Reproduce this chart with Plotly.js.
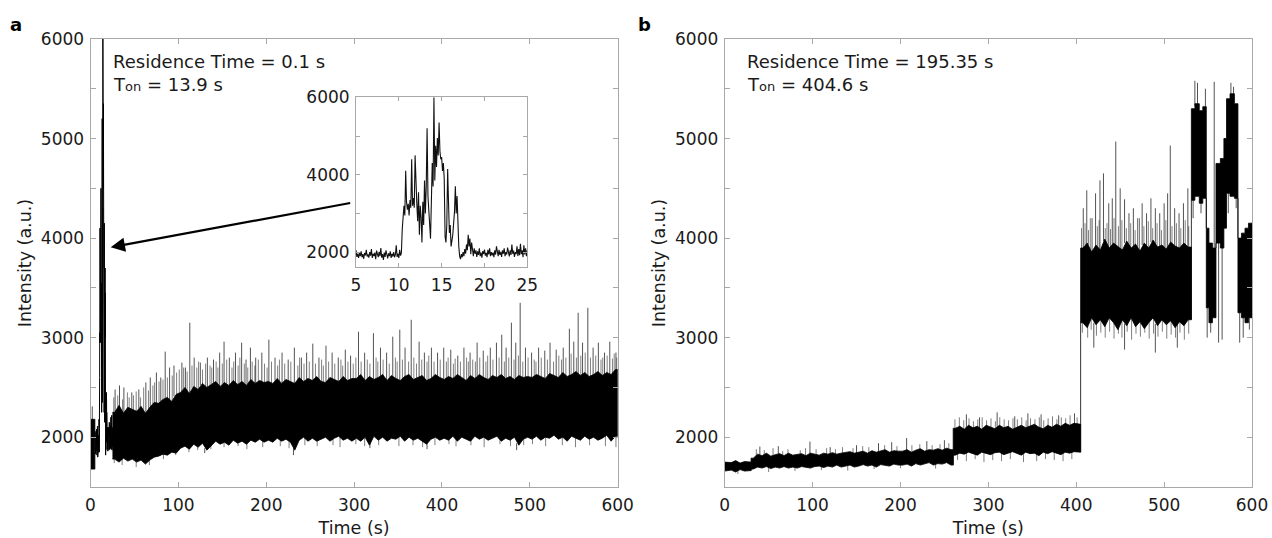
<!DOCTYPE html>
<html>
<head>
<meta charset="utf-8">
<script src="https://cdn.plot.ly/plotly-3.0.1.min.js"></script>
<style>html,body{margin:0;padding:0;background:#fff;}#chart{width:1272px;height:538px;}</style>
</head>
<body>
<div id="chart"></div>
<script>
// ---------------- DATA ----------------
// Panel a: zoomed binding event (inset), 0.1 s sampling from 5 s to 25 s
const insetStart = 5.0;
const insetStep = 0.1;
const insetValues = [
  2050,1880,1960,1850,1990,1900,2020,1870,1950,1830,
  1980,1920,2060,1890,1940,1860,2000,1910,2080,1850,
  1960,1900,1990,1820,2040,1930,1870,2010,1900,2110,
  1860,1950,1800,1990,1880,2050,1920,1840,1970,1900,
  2020,1850,1960,1890,2000,1870,1940,2180,1880,1960,
  1850,2060,1910,1980,2600,3050,3200,2950,4100,3300,
  3100,3250,2950,3350,3150,4400,3200,3400,3150,4500,
  3600,3250,2800,3550,2450,3200,2900,2250,3300,2700,
  3850,3000,3700,5200,3450,3100,2450,2350,3300,4300,
  3700,6000,3850,4750,4200,4950,4500,5350,4600,4400,
  4450,4100,4300,3900,2400,2250,2700,4150,3300,2500,
  2700,2150,2300,2450,2750,3050,3700,3000,3450,2500,
  2150,1900,1820,1950,1870,2000,1900,2080,1960,2200,
  2050,2450,2150,2350,1950,2250,2000,1900,2100,1960,
  2050,1880,2020,1930,2100,1900,1990,1860,2030,1950,
  2070,1910,1980,1870,2060,1940,2100,1900,2000,1920,
  1990,1870,2050,1940,2150,1980,1900,2060,1930,2010,
  1880,2050,1960,2100,1900,2000,1940,2120,1980,1890,
  2050,1930,2200,1960,2040,1880,2000,1950,2150,1900,
  2080,1920,2220,1950,2050,1870,2180,1940,2100,1900,2050
];

// Panel a: 5 s bins (bin 0 s, then 25 s ... 595 s), lower / upper edge of the dense noise band
const binWidth = 5;
const aBinStarts = [0, 25,30,35,40,45,50,55,60,65,70,75,80,85,90,95,
  100,105,110,115,120,125,130,135,140,145,150,155,160,165,170,175,180,185,190,195,
  200,205,210,215,220,225,230,235,240,245,250,255,260,265,270,275,280,285,290,295,
  300,305,310,315,320,325,330,335,340,345,350,355,360,365,370,375,380,385,390,395,
  400,405,410,415,420,425,430,435,440,445,450,455,460,465,470,475,480,485,490,495,
  500,505,510,515,520,525,530,535,540,545,550,555,560,565,570,575,580,585,590,595];
const aLow = [1680,
  1780,1750,1790,1760,1780,1750,1770,1730,1770,1800,1810,1830,1820,1850,1840,
  1890,1910,1880,1930,1900,1940,1870,1920,1960,1930,1950,1920,1970,1940,1960,1930,1970,1950,1980,1950,
  1970,1950,1990,1960,1980,1950,1870,1970,2000,1960,1990,1960,1980,2000,1960,1990,2010,1970,1990,1960,
  1990,1960,2000,1920,2010,1970,2000,1960,1990,1980,2010,1960,2000,1970,1990,1960,1930,1980,2000,1970,
  1990,1970,2010,1960,2000,1980,1960,2010,1980,2000,1970,1990,2010,1960,1990,1970,2000,1920,1980,2000,
  1980,2010,1970,2000,1990,2020,1980,2000,1960,2010,1990,1970,2010,1980,2000,1970,1990,2020,1960,2010];
const aHigh = [2180,
  2250,2320,2240,2300,2280,2260,2310,2240,2300,2350,2340,2380,2400,2360,2430,
  2450,2500,2440,2510,2480,2540,2500,2530,2560,2510,2550,2520,2570,2530,2560,2520,2580,2540,2570,2550,
  2560,2540,2590,2540,2580,2560,2540,2600,2560,2590,2570,2610,2560,2550,2600,2580,2560,2610,2570,2590,
  2590,2630,2570,2610,2580,2600,2630,2570,2620,2590,2570,2610,2630,2580,2600,2620,2570,2590,2630,2600,
  2580,2610,2590,2630,2600,2570,2620,2590,2630,2600,2580,2620,2600,2630,2590,2610,2580,2620,2600,2610,
  2600,2630,2610,2590,2640,2620,2600,2650,2610,2630,2660,2620,2650,2610,2630,2660,2620,2650,2630,2680];
// Panel a: tall isolated spikes / dips (time s, intensity)
const aSpikeT = [2,28,33,38,47,55,63,68,75,80,85,90,95,104,108,113,118,125,133,140,147,152,158,165,172,177,182,188,195,
  203,210,218,225,232,240,246,253,260,268,275,282,290,296,305,312,322,330,337,344,352,358,365,374,380,388,395,
  402,410,418,425,432,440,447,455,462,468,473,479,484,489,495,502,510,517,523,530,538,545,550,555,560,566,572,578,585,591,598,
  130,231,318,383,485];
const aSpikeV = [2310,2480,2520,2500,2450,2480,2550,2600,2650,2600,2860,2700,2720,2750,2700,3150,2800,2750,2800,2780,2850,2960,2800,2850,2950,2780,2900,2800,2850,
  2980,2800,2850,2780,2900,2800,2850,2940,2800,2920,2850,2800,2880,2820,3060,2850,3045,2900,2850,3010,3080,2900,3180,2960,2850,2900,2850,
  2900,2880,2820,2900,2850,2950,2870,2900,2950,3030,2900,3150,2950,3350,2900,2850,2900,2870,2950,2880,2900,3090,2960,3250,2950,3300,2900,2950,2850,2960,2850,
  1840,1820,1890,1880,1870];
// Panel a: short excursions forming the grey fringe of the band (time s, intensity)
const aHazeT = [26.5,31,36.5,42,44,49,52,57,60.5,66,71,73,78,82.5,87.5,93,98,101,106,110,115.5,121,123,127.5,131,136,138,143,145,150,
  155,161,163,168,170,175,179,184,187,191,198,201,206,213,215,221,228,236,238,243,249,256,263,265,271,278,285,287,293,299,
  302,308,315,318,325,327,333,340,347,349,355,362,368,371,377,383,385,391,398,405,407,413,415,421,428,430,435,438,443,450,
  452,458,465,471,476,482,487,492,498,505,507,513,520,527,533,536,541,547,553,558,563,569,575,581,583,588,594,596,599,
  27,36,52,67,83,97,112,122,137,152,168,178,196,216,226,244,258,276,284,302,312,328,351,367,378,392,408,416,433,448,
  466,478,493,503,518,537,552,568,586,598];
const aHazeV = [2400,2420,2380,2450,2400,2420,2460,2400,2500,2470,2520,2550,2560,2580,2600,2620,2650,2680,2700,2660,2720,2700,2760,2680,2740,2720,2700,2760,2700,2740,
  2780,2700,2760,2720,2800,2740,2700,2760,2720,2780,2740,2700,2760,2720,2780,2740,2760,2720,2800,2740,2760,2740,2780,2720,2760,2740,2780,2720,2760,2740,
  2800,2760,2780,2740,2800,2760,2780,2740,2800,2760,2780,2760,2800,2740,2780,2760,2820,2760,2780,2760,2800,2740,2790,2760,2800,2760,2780,2760,2800,2760,
  2820,2780,2800,2760,2800,2780,2820,2760,2800,2780,2760,2800,2780,2760,2820,2780,2800,2840,2800,2820,2850,2800,2820,2780,2800,2820,2790,2840,2800,
  1740,1720,1700,1720,1780,1820,1850,1870,1880,1900,1910,1880,1900,1910,1890,1920,1910,1920,1900,1930,1910,1920,1910,1920,1900,1920,1930,1910,1920,1900,
  1930,1910,1920,1930,1910,1920,1900,1920,1910,1900];

// Panel b: 5 s bins 0 ... 525 s, lower / upper edge of the dense band
const bLow = [1660,1670,1650,1675,1660,1665,1680,
  1700,1690,1705,1685,1700,1690,1705,1690,1700,1690,1705,1695,1690,
  1705,1710,1695,1710,1700,1720,1700,1710,1720,1700,1710,1725,1710,1720,1700,1725,1720,1710,1730,1720,
  1720,1730,1710,1735,1720,1730,1745,1720,1735,1730,1745,1720,
  1820,1840,1830,1850,1835,1820,1850,1835,1825,1845,1850,1825,1840,1855,1835,1820,1850,1835,1840,1815,1850,1835,1855,1840,1825,1850,1840,1855,1850,
  3150,3100,3200,3130,3180,3110,3200,3150,3080,3180,3120,3200,3110,3160,3090,3150,3200,3120,3180,3130,3170,3100,3160,3120,3180];
const bHigh = [1750,1745,1765,1740,1755,1750,1790,
  1830,1815,1840,1810,1825,1835,1815,1840,1820,1830,1835,1815,1840,
  1830,1820,1840,1830,1845,1830,1840,1850,1855,1840,1850,1860,1840,1865,1850,1860,1875,1850,1865,1860,
  1860,1875,1850,1870,1885,1860,1875,1870,1885,1870,1890,1875,
  2090,2110,2080,2120,2095,2110,2080,2120,2100,2085,2120,2095,2110,2080,2100,2120,2095,2110,2130,2100,2085,2120,2100,2130,2110,2140,2120,2140,2130,
  3900,3950,3860,3930,3880,3990,3900,3950,3910,3880,3970,3900,3940,3870,3950,3900,3980,3910,3930,3890,3960,3920,3900,3950,3910];
// Panel b: times (s) where the intensity level switches within the binned part
const bSwitches = [0, 30, 260, 405, 531];
// Panel b: switching segment after 531 s (segment start s, lower, upper edge)
const bTailStarts = [531,535,540,544,548,551,555,559,564,568,571,575,580,584,588,592,596];
const bTailLow  = [4380,4420,4350,4400,3300,3150,3200,3950,3900,4100,4450,4420,4400,3250,3200,3150,3200];
const bTailHigh = [5300,5350,5280,5320,4100,3950,3900,4750,4800,5000,5400,5450,5350,4000,4050,4100,4150];
const bEnd = 600;
// Panel b: tall isolated spikes / dips (time s, intensity)
const bSpikeT = [40,61,97,120,150,175,190,207,230,250,275,290,310,330,345,360,380,398,
  408,412,418,422,427,431,437,441,445,450,455,460,465,470,475,480,485,490,495,500,504,507,512,517,522,527,
  420,455,490,515,
  535,538,547,557,576,579,549,553,562,566,586,590,597,533,542,573,582];
const bSpikeV = [1906,1910,1956,1900,1920,1940,1950,1991,1960,1970,2230,2200,2250,2210,2240,2230,2220,2240,
  4300,4480,4200,4450,4580,4650,4350,4400,4970,4500,4390,4250,4300,4200,4350,4250,4400,4300,4250,4350,4450,4930,4300,4250,4350,4500,
  2900,2880,2850,2900,
  5580,5560,5500,5570,5560,5520,3000,3050,2950,2980,2950,3000,3080,4200,4250,4250,4300];
// Panel b: short excursions forming the grey fringe (time s, intensity)
const bHazeT = [36,45,55,66,72,86,92,104,116,126,134,146,157,164,182,196,213,222,236,245,255,
  15,50,80,110,140,170,200,240,
  262,267,272,278,283,288,293,298,303,308,313,318,323,328,333,338,343,348,353,358,363,368,373,378,383,388,393,401,
  265,275,285,295,305,315,325,340,355,365,375,385,395,
  406,410,414,416,424,426,433,435,439,443,448,452,457,462,467,472,477,482,487,492,497,502,509,514,519,524,528,
  407,413,417,423,428,433,438,443,448,452,458,463,468,473,478,483,488,493,498,503,508,513,518,523,528];
const bHazeV = [1880,1870,1890,1860,1880,1870,1890,1880,1890,1880,1900,1890,1910,1900,1920,1910,1920,1930,1920,1930,1940,
  1630,1650,1660,1670,1665,1680,1690,1685,
  2180,2200,2170,2190,2160,2180,2200,2170,2190,2160,2200,2180,2170,2190,2180,2200,2170,2190,2180,2200,2170,2190,2210,2180,2200,2190,2220,2200,
  1770,1760,1780,1750,1770,1760,1780,1750,1760,1780,1770,1760,1780,
  4100,4150,4080,4200,4120,4180,4100,4150,4090,4200,4120,4180,4100,4150,4080,4200,4120,4170,4100,4150,4080,4180,4120,4150,4100,4180,4120,
  3050,3000,3080,3020,3050,3000,3060,2990,3040,3000,3060,2980,3040,3010,3050,2990,3040,3010,3060,2990,3030,3000,3050,2980,3040];

// Text
const panelLabels = ['a', 'b'];
const residenceText = ['Residence Time = 0.1 s', 'Residence Time = 195.35 s'];
const tonValues = ['13.9 s', '404.6 s'];
const xTitle = 'Time (s)';
const yTitle = 'Intensity (a.u.)';

// ---------------- BUILD ----------------
// band through bin centres, from segment start x0 to segment end x1
function band(starts, lo, hi, x0, x1) {
  const xs = [x0], up = [hi[0]], dn = [lo[0]];
  for (let i = 0; i < starts.length; i++) {
    xs.push(Math.min(Math.max(starts[i] + binWidth / 2, x0), x1)); up.push(hi[i]); dn.push(lo[i]);
  }
  const n = starts.length - 1;
  xs.push(x1); up.push(hi[n]); dn.push(lo[n]);
  return {x: xs.concat(xs.slice().reverse()), y: up.concat(dn.slice().reverse())};
}
// stepped band (flat per segment, vertical switches)
function stepBand(starts, lo, hi, end) {
  const xs = [], up = [], dn = [];
  for (let i = 0; i < starts.length; i++) {
    const e = i + 1 < starts.length ? starts[i + 1] : end;
    xs.push(starts[i], e); up.push(hi[i], hi[i]); dn.push(lo[i], lo[i]);
  }
  return {x: xs.concat(xs.slice().reverse()), y: up.concat(dn.slice().reverse())};
}
function spikes(ts, vs, starts, lo, hi) {
  const x = [], y = [];
  for (let i = 0; i < ts.length; i++) {
    let k = 0;
    for (let j = 0; j < starts.length; j++) if (starts[j] <= ts[i]) k = j;
    const base = vs[i] > hi[k] ? hi[k] - 20 : (vs[i] < lo[k] ? lo[k] + 20 : (lo[k] + hi[k]) / 2);
    x.push(ts[i], ts[i], null); y.push(base, vs[i], null);
  }
  return {x, y};
}
const insetT = insetValues.map((_, i) => +(insetStart + i * insetStep).toFixed(2));

const aBand0 = band(aBinStarts.slice(0, 1), aLow.slice(0, 1), aHigh.slice(0, 1), 0, 5);
const aBand1 = band(aBinStarts.slice(1), aLow.slice(1), aHigh.slice(1), 25, 600);
const aSp = spikes(aSpikeT, aSpikeV, aBinStarts, aLow, aHigh);
const aHz = spikes(aHazeT, aHazeV, aBinStarts, aLow, aHigh);

const bBinStarts = bLow.map((_, i) => i * binWidth);
const bBands = [];
for (let s = 0; s + 1 < bSwitches.length; s++) {
  const idx = bBinStarts.map((t, i) => i).filter(i => bBinStarts[i] >= bSwitches[s] && bBinStarts[i] < bSwitches[s + 1]);
  bBands.push(band(idx.map(i => bBinStarts[i]), idx.map(i => bLow[i]), idx.map(i => bHigh[i]), bSwitches[s], bSwitches[s + 1]));
}
bBands.push(stepBand(bTailStarts, bTailLow, bTailHigh, bEnd));
const bStarts = bBinStarts.concat(bTailStarts);
const bLo = bLow.concat(bTailLow);
const bHi = bHigh.concat(bTailHigh);
const bSp = spikes(bSpikeT, bSpikeV, bStarts, bLo, bHi);
const bHz = spikes(bHazeT, bHazeV, bStarts, bLo, bHi);

const ink = '#000000';
function fillTrace(b, xa, ya) {
  return {x: b.x, y: b.y, xaxis: xa, yaxis: ya, type: 'scatter', mode: 'lines', fill: 'toself',
    fillcolor: ink, line: {color: ink, width: 0.8}, hoverinfo: 'skip'};
}
function spikeTrace(s, xa, ya, col) {
  return {x: s.x, y: s.y, xaxis: xa, yaxis: ya, type: 'scatter', mode: 'lines',
    line: {color: col, width: 1}, connectgaps: false, hoverinfo: 'skip'};
}
// vertical switching lines between panel b levels
const bSwitchLines = {x: [], y: []};
for (let s = 1; s < bSwitches.length; s++) {
  const t = bSwitches[s];
  let kPrev = 0;
  for (let j = 0; j < bStarts.length; j++) if (bStarts[j] < t) kPrev = j;
  let kNext = bStarts.findIndex(v => v >= t);
  bSwitchLines.x.push(t, t, null);
  bSwitchLines.y.push(Math.min(bLo[kPrev], bLo[kNext]), Math.max(bHi[kPrev], bHi[kNext]), null);
}

const traces = [
  spikeTrace(aHz, 'x', 'y', 'rgba(0,0,0,0.5)'),
  spikeTrace(aSp, 'x', 'y', 'rgba(0,0,0,0.68)'),
  fillTrace(aBand0, 'x', 'y'),
  fillTrace(aBand1, 'x', 'y'),
  {x: insetT, y: insetValues, xaxis: 'x', yaxis: 'y', type: 'scatter', mode: 'lines', line: {color: ink, width: 1}, hoverinfo: 'skip'},
  spikeTrace(bHz, 'x2', 'y2', 'rgba(0,0,0,0.5)'),
  spikeTrace(bSp, 'x2', 'y2', 'rgba(0,0,0,0.68)'),
  spikeTrace(bSwitchLines, 'x2', 'y2', 'rgba(0,0,0,0.8)')
].concat(bBands.map(b => fillTrace(b, 'x2', 'y2'))).concat([
  {x: insetT, y: insetValues, xaxis: 'x3', yaxis: 'y3', type: 'scatter', mode: 'lines', line: {color: '#111', width: 1.1}, hoverinfo: 'skip'}
]);

// ---------------- LAYOUT ----------------
const W = 1272, H = 538, ML = 90, MR = 20, MT = 39, MB = 51;
const PW = W - ML - MR, PH = H - MT - MB;
const px = v => (v - ML) / PW;
const py = v => (H - MB - v) / PH;

const font = 'DejaVu Sans, Verdana, sans-serif';
const frameCol = '#a8a8a8';
const tickFont = {family: font, size: 17, color: '#1a1a1a'};
const titleFont = {family: font, size: 17.5, color: '#1a1a1a'};

const yVals = [2000,2500,3000,3500,4000,4500,5000,5500,6000];
const yText = yVals.map(v => v % 1000 === 0 ? String(v) : '');

function xAxis(dom, anchor) {
  return {domain: dom, anchor: anchor, range: [0, 600], dtick: 100, tick0: 0,
    showline: true, mirror: 'ticks', linecolor: frameCol, linewidth: 1,
    ticks: 'inside', ticklen: 5, tickcolor: frameCol, tickwidth: 1,
    showgrid: false, zeroline: false, tickfont: tickFont, ticklabelstandoff: 3,
    title: {text: xTitle, font: titleFont, standoff: 9}};
}
function yAxis(anchor) {
  return {domain: [0, 1], anchor: anchor, range: [1500, 6000], tickvals: yVals, ticktext: yText,
    showline: true, mirror: 'ticks', linecolor: frameCol, linewidth: 1,
    ticks: 'inside', ticklen: 5, tickcolor: frameCol, tickwidth: 1,
    showgrid: false, zeroline: false, tickfont: tickFont, ticklabelstandoff: 2,
    title: {text: yTitle, font: titleFont, standoff: 4}};
}

const aDom = [px(90.5), px(617.7)];
const bDom = [px(724.7), px(1252.3)];

const inVals = [2000,3000,4000,5000,6000];
const inText = inVals.map(v => v % 2000 === 0 ? String(v) : '');

const layout = {
  width: W, height: H,
  margin: {l: ML, r: MR, t: MT, b: MB, pad: 0},
  paper_bgcolor: '#ffffff', plot_bgcolor: 'rgba(0,0,0,0)',
  showlegend: false,
  xaxis: xAxis(aDom, 'y'),
  yaxis: yAxis('x'),
  xaxis2: xAxis(bDom, 'y2'),
  yaxis2: yAxis('x2'),
  xaxis3: {domain: [px(356), px(527.3)], anchor: 'y3', range: [5, 25], tickvals: [5,10,15,20,25],
    showline: true, mirror: 'ticks', linecolor: frameCol, linewidth: 1,
    ticks: 'inside', ticklen: 4, tickcolor: frameCol, showgrid: false, zeroline: false,
    tickfont: tickFont, ticklabelstandoff: 2},
  yaxis3: {domain: [py(267.3), py(97.3)], anchor: 'x3', range: [1610, 6000], tickvals: inVals, ticktext: inText,
    showline: true, mirror: 'ticks', linecolor: frameCol, linewidth: 1,
    ticks: 'inside', ticklen: 4, tickcolor: frameCol, showgrid: false, zeroline: false,
    tickfont: tickFont, ticklabelstandoff: 2},
  annotations: [
    {xref: 'paper', yref: 'paper', x: px(15.5), y: py(24), text: '<b>' + panelLabels[0] + '</b>', showarrow: false,
      font: {family: font, size: 18, color: '#000'}, xanchor: 'center', yanchor: 'middle'},
    {xref: 'paper', yref: 'paper', x: px(644), y: py(24), text: '<b>' + panelLabels[1] + '</b>', showarrow: false,
      font: {family: font, size: 18, color: '#000'}, xanchor: 'center', yanchor: 'middle'},
    {xref: 'paper', yref: 'paper', x: px(111), y: py(61.7), text: residenceText[0], showarrow: false,
      font: {family: font, size: 18, color: '#1a1a1a'}, xanchor: 'left', yanchor: 'middle'},
    {xref: 'paper', yref: 'paper', x: px(111), y: py(85), text: 'T<span style="font-size:13px">on</span> = ' + tonValues[0], showarrow: false,
      font: {family: font, size: 18, color: '#1a1a1a'}, xanchor: 'left', yanchor: 'middle'},
    {xref: 'paper', yref: 'paper', x: px(745), y: py(61.7), text: residenceText[1], showarrow: false,
      font: {family: font, size: 18, color: '#1a1a1a'}, xanchor: 'left', yanchor: 'middle'},
    {xref: 'paper', yref: 'paper', x: px(745), y: py(85), text: 'T<span style="font-size:13px">on</span> = ' + tonValues[1], showarrow: false,
      font: {family: font, size: 18, color: '#1a1a1a'}, xanchor: 'left', yanchor: 'middle'},
    {xref: 'paper', yref: 'paper', x: px(110.7), y: py(247.3), text: '', showarrow: true,
      ax: 241, ay: -44.6, arrowhead: 2, arrowsize: 1.3, arrowwidth: 2.2, arrowcolor: '#000', standoff: 0}
  ]
};

Plotly.newPlot('chart', traces, layout, {staticPlot: true, displayModeBar: false});
</script>
</body>
</html>
